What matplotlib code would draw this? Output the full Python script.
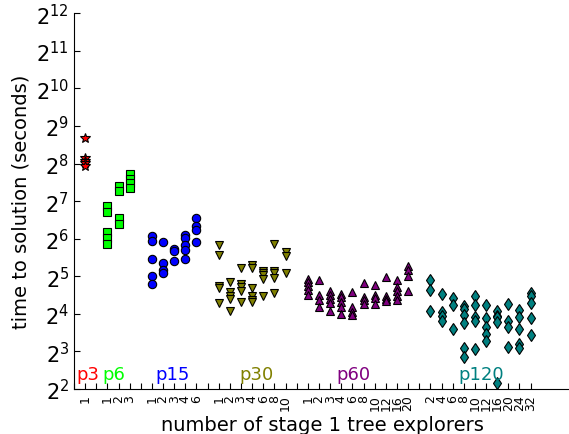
import matplotlib

matplotlib.use("Agg")
import matplotlib.pyplot as plt
from matplotlib.ticker import FixedLocator, NullLocator

# run times in seconds, one inner list per explorer count
groups = ["p3", "p6", "p15", "p30", "p60", "p120"]
colors = ["red", "lime", "blue", "olive", "purple", "teal"]
markers = ["*", "s", "o", "v", "^", "d"]

explorers = [
    [1],
    [1, 2, 3],
    [1, 2, 3, 4, 6],
    [1, 2, 3, 4, 6, 8, 10],
    [1, 2, 3, 4, 6, 8, 10, 12, 16, 20],
    [2, 4, 6, 8, 10, 12, 16, 20, 24, 32],
]

p3_times = [[413, 282, 269, 258, 246]]
p6_times = [
    [116, 104, 72, 65, 58],
    [170, 153, 94, 84],
    [211, 193, 179, 163],
]
p15_times = [
    [67, 61, 44, 32, 27.5],
    [60.5, 41, 36, 34],
    [53, 51, 42.5],
    [68, 65, 57, 52, 44],
    [94, 81, 75, 60],
]
p30_times = [
    [57, 47, 26.5, 25.8, 19.4],
    [28.6, 23.8, 22.3, 21, 16.8],
    [37, 27.7, 26.4, 24.4, 19.8],
    [39.4, 37, 25.6, 22.2, 20.7, 19.8],
    [35.5, 34.3, 32.9, 30.7, 22.2],
    [58, 35, 33.8, 30.9, 23.4],
    [49.9, 46.9, 34],
]
p60_times = [
    [30.5, 28.6, 26.6, 24.8, 22.6],
    [30, 22.6, 20.6, 18],
    [24.4, 22.6, 21, 19.6, 16.9],
    [23.1, 21.8, 20, 18, 15.9],
    [23.8, 18.3, 16.5, 15.7],
    [28.2, 21.8, 20.6, 19.2],
    [27.3, 22.6, 21.3, 19.2],
    [31.3, 22.3, 21, 20.4],
    [30, 26.4, 24.4, 22.3, 20.7],
    [38.8, 35.7, 32.2, 24.3],
]
p120_times = [
    [30, 24.9, 16.8],
    [23.1, 16.7, 15.5, 14.1],
    [21.4, 18.8, 12.1],
    [18.6, 17.5, 15.7, 13.6, 8.5, 7.2],
    [22.2, 18.8, 15, 14.1, 8.3],
    [18.8, 14.7, 12.6, 11, 9.7],
    [16.9, 15.5, 15, 13.8, 4.5],
    [19.2, 14.1, 12.5, 8.7],
    [17.1, 15, 12.1, 9.2, 8.5],
    [23.4, 22.2, 19.4, 14.8, 10.9],
]
all_times = [p3_times, p6_times, p15_times, p30_times, p60_times, p120_times]

# where each group name sits along the x axis
label_x = [1.27, 3.6, 8.85, 16.35, 25.05, 36.6]

fig = plt.figure(figsize=(5.69, 4.35), dpi=100)
ax = fig.add_axes([0.130, 0.1034, 0.875, 0.864])

tick_pos = [0]
tick_lab = [""]
pos = 1
for name, col, mk, ex, times, lx in zip(groups, colors, markers, explorers, all_times, label_x):
    for n, vals in zip(ex, times):
        ax.plot([pos] * len(vals), vals, linestyle="none", marker=mk,
                color=col, markeredgecolor="black", markeredgewidth=0.8,
                markersize=7 if mk == "*" else 6)
        tick_pos.append(pos)
        tick_lab.append(str(n))
        pos += 1
    ax.text(lx, 2 ** 2.4, name, color=col, fontsize=13, ha="center", va="center")
    tick_pos.append(pos)
    tick_lab.append("")
    pos += 1
tick_pos = tick_pos[:-1]
tick_lab = tick_lab[:-1]

ax.set_yscale("log", base=2)
ax.set_ylim(2 ** 2, 2 ** 12)
ax.yaxis.set_major_locator(FixedLocator([2 ** k for k in range(2, 13)]))
ax.set_yticklabels(["$2^{%d}$" % k for k in range(2, 13)], fontsize=15)
ax.yaxis.set_minor_locator(NullLocator())

ax.set_xlim(0, 44.7)
ax.set_xticks(tick_pos)
ax.set_xticklabels(tick_lab, rotation=90, fontsize=9)

ax.tick_params(direction="in", length=4, top=False, right=False)
ax.spines["top"].set_visible(False)
ax.spines["right"].set_visible(False)

ax.set_ylabel("time to solution (seconds)", fontsize=14)
ax.set_xlabel("number of stage 1 tree explorers", fontsize=14)

fig.savefig("out.png", dpi=100)
plt.close(fig)
